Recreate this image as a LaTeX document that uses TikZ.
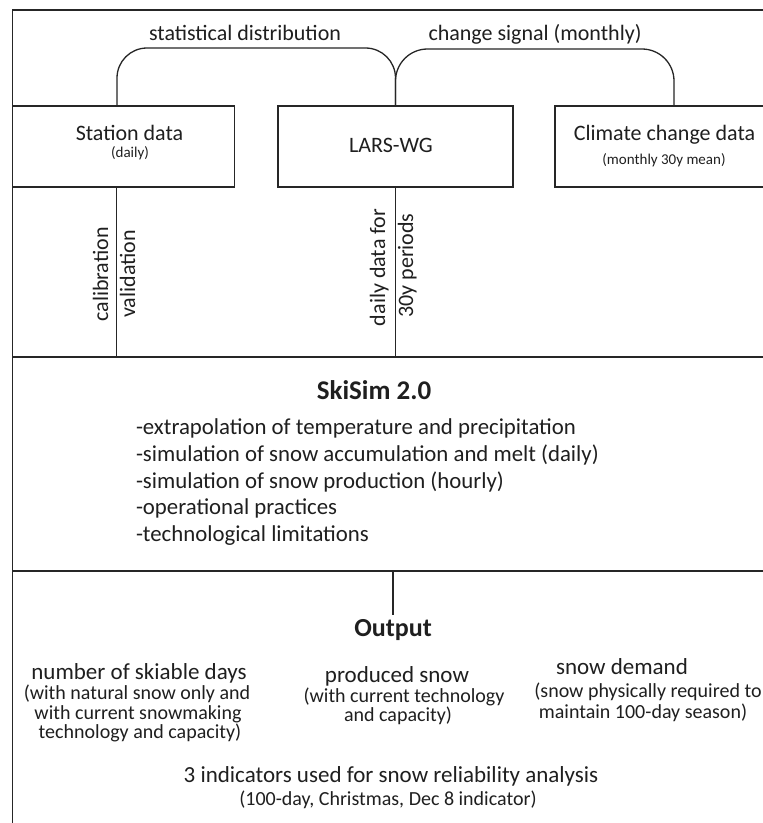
\documentclass[tikz,border=0pt]{standalone}
\usepackage{fontspec}
\setmainfont{Carlito}
\begin{document}
\begin{tikzpicture}[x=1pt,y=-1pt,
  line/.style={draw=black!85, line width=1.3pt},
  box/.style={draw=black!85, line width=1.3pt, minimum height=81, inner sep=0pt, outer sep=0pt},
  lbl/.style={text=black!88, inner sep=0pt, outer sep=0pt, anchor=base},
  big/.style={font=\fontsize{22}{26}\selectfont},
  bul/.style={font=\fontsize{22.8}{27}\selectfont},
  obig/.style={font=\fontsize{23}{27}\selectfont},
  mid/.style={font=\fontsize{20}{24}\selectfont},
  small/.style={font=\fontsize{15}{18}\selectfont},
  bold/.style={font=\bfseries\fontsize{27}{32}\selectfont}]
\useasboundingbox (0,0) rectangle (763,823);
\clip (0,0) rectangle (763,823);
\fill[white] (0,0) rectangle (763,823);
% frame
\draw[line] (12.5,10) rectangle (780,840);
% boxes
\node[box, minimum width=222, anchor=north west] (station) at (12.5,106) {};
\node[box, minimum width=235, anchor=north west] (lars) at (278,106) {};
\node[box, minimum width=218, anchor=north west] (climate) at (555,106) {};
\node[box, minimum width=767.5, minimum height=214, anchor=north west] (skisim) at (12.5,357) {};
% box texts
\node[lbl, big] (stationT) at (129.5,140) {Station data};
\node[lbl, small] (stationS) at (130,157) {(daily)};
\node[lbl, big] (larsT) at (391,152) {LARS-WG};
\node[lbl, big] (climateT) at (664.5,140) {Climate change data};
\node[lbl, small] (climateS) at (664,164) {(monthly 30y mean)};
% arches
\coordinate (a1) at (250,48);
\coordinate (a2) at (535,49);
\draw[line, rounded corners=30] ([xshift=-6.5]station.north) |- (a1) -| (lars.north);
\draw[line, rounded corners=32] (lars.north) |- (a2) -| ([xshift=10]climate.north);
\node[lbl, big] (sd) at (245,40.5) {statistical distribution};
\node[lbl, big] (cs) at (535,40.5) {change signal (monthly)};
% links down to SkiSim
\draw[line] ([xshift=-7]station.south) -- ([xshift=-7]station.south |- skisim.north);
\draw[line] (lars.south) -- (lars.south |- skisim.north);
\node[lbl, big, rotate=90] (cal) at (108,274.5) {calibration};
\node[lbl, big, rotate=90] (val) at (135,274) {validation};
\node[lbl, big, rotate=90] (dd) at (385,267.5) {daily data for};
\node[lbl, big, rotate=90] (py) at (413,265.5) {30y periods};
% SkiSim
\node[lbl, bold] (sktitle) at (374,399) {SkiSim 2.0};
\node[lbl, bul, anchor=base west] (b1) at (136,434) {-extrapolation of temperature and precipitation};
\node[lbl, bul, anchor=base west] (b2) at (136,461) {-simulation of snow accumulation and melt (daily)};
\node[lbl, bul, anchor=base west] (b3) at (136,488) {-simulation of snow production (hourly)};
\node[lbl, bul, anchor=base west] (b4) at (136,514.5) {-operational practices};
\node[lbl, bul, anchor=base west] (b5) at (136,541) {-technological limitations};
% Output
\node[lbl, font=\bfseries\fontsize{26}{30}\selectfont] (output) at (393,636) {Output};
\draw[line] (output.north |- skisim.south) -- ([yshift=4]output.north);
\node[lbl, obig] (n1) at (139,679) {number of skiable days};
\node[lbl, mid] (n2) at (137,699.5) {(with natural snow only and};
\node[lbl, mid] (n3) at (138,719) {with current snowmaking};
\node[lbl, mid] (n4) at (140,738.5) {technology and capacity)};
\node[lbl, obig] (p1) at (397,682) {produced snow};
\node[lbl, mid] (p2) at (404,702.5) {(with current technology};
\node[lbl, mid] (p3) at (398,721.5) {and capacity)};
\node[lbl, obig] (d1) at (622,674.5) {snow demand};
\node[lbl, mid] (d2) at (648,697.5) {(snow physically required to};
\node[lbl, mid] (d3) at (643,718) {maintain 100-day season)};
\node[lbl, obig] (i1) at (391,782) {3 indicators used for snow reliability analysis};
\node[lbl, mid] (i2) at (388,805) {(100-day, Christmas, Dec 8 indicator)};
\end{tikzpicture}
\end{document}
